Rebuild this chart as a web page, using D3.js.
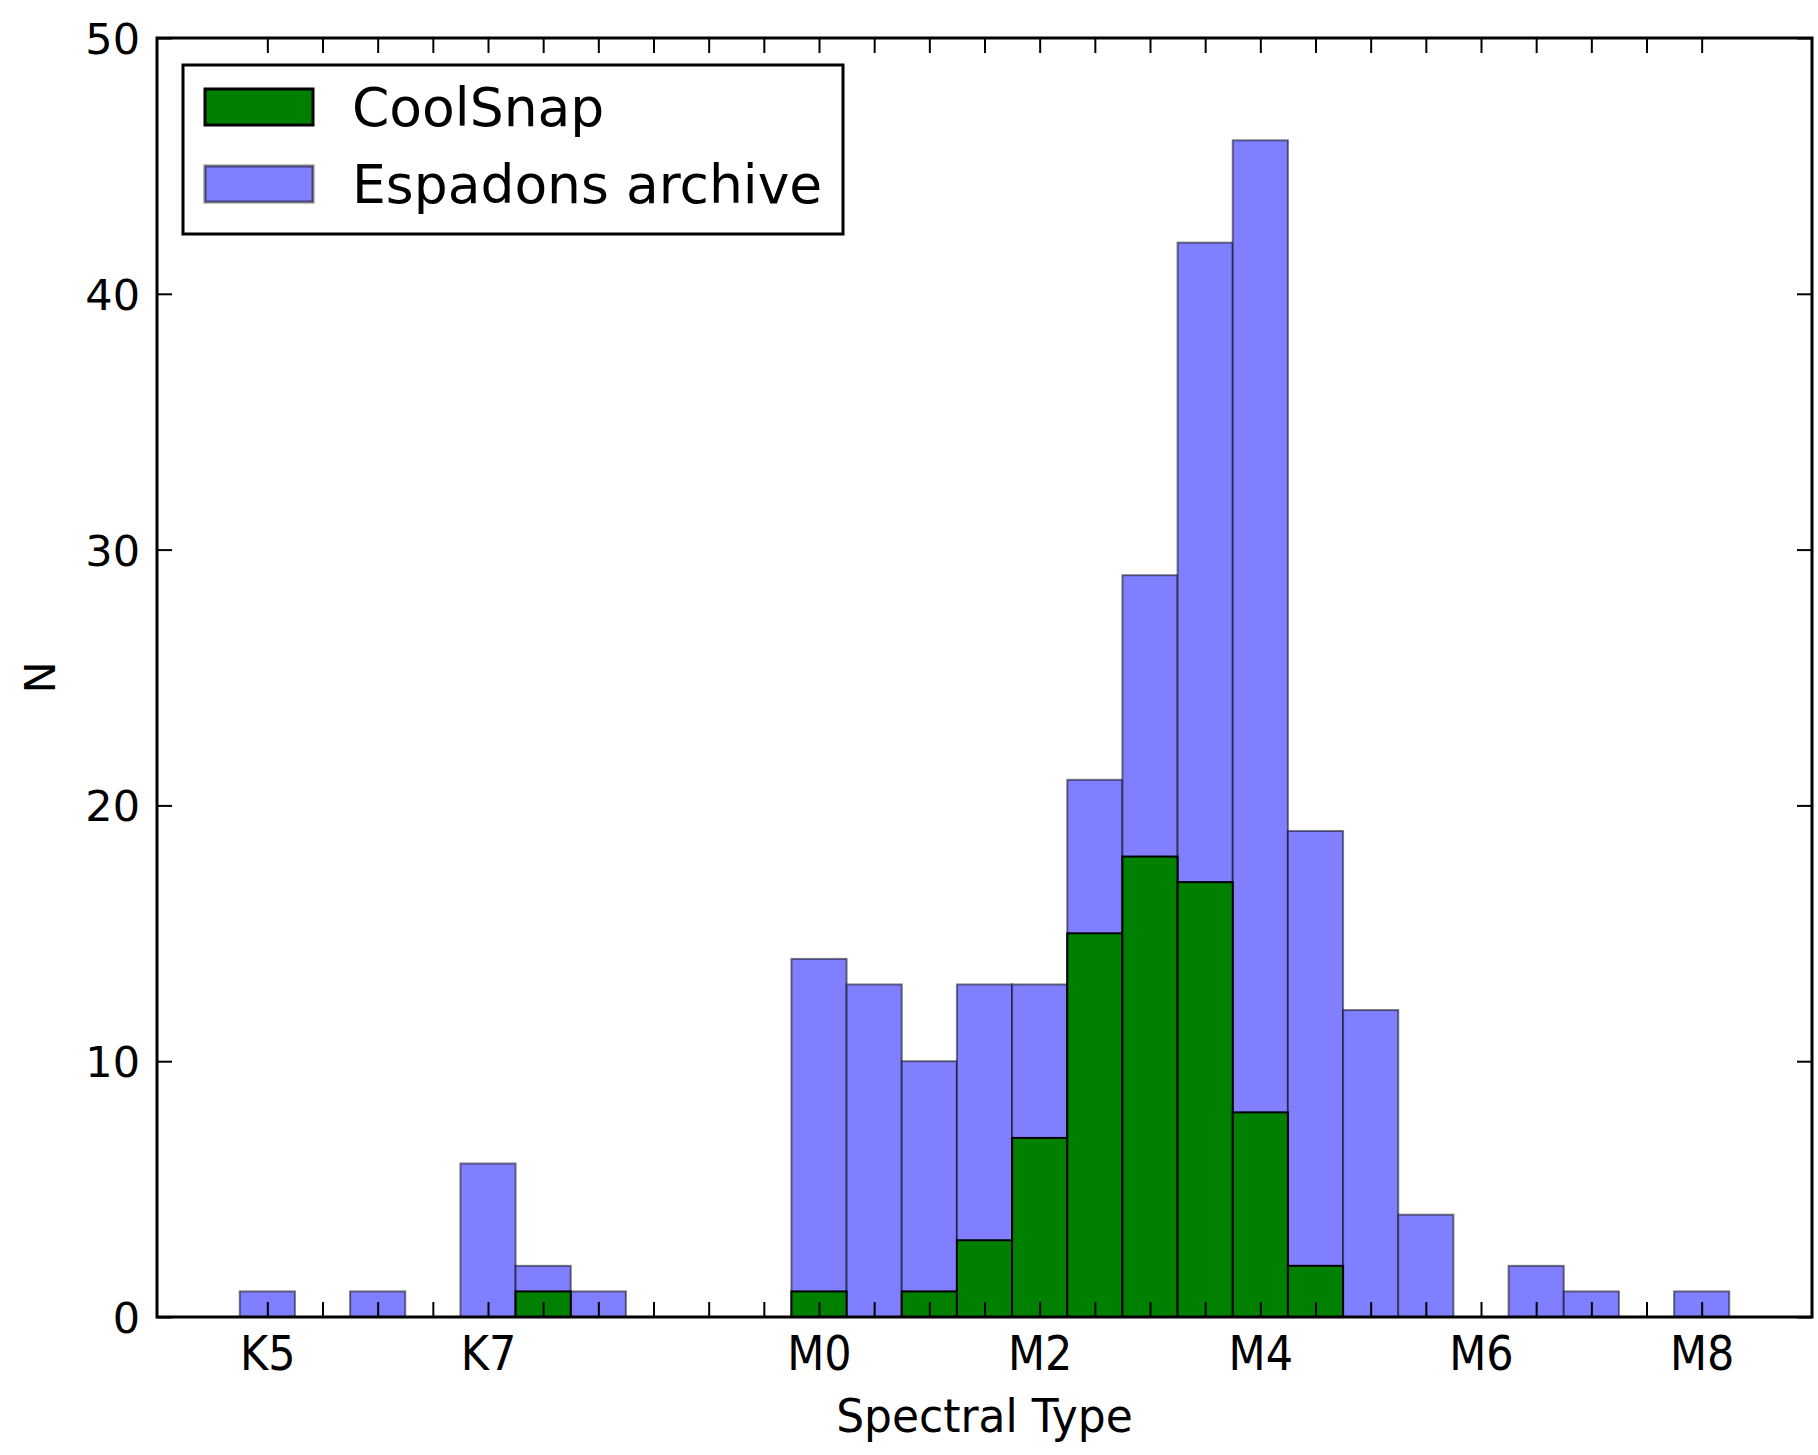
<!DOCTYPE html>
<html>
<head>
<meta charset="utf-8">
<script src="https://cdn.jsdelivr.net/npm/d3@7"></script>
<style>
  html, body { margin: 0; padding: 0; background: #fff; }
  svg { display: block; font-family: "DejaVu Sans", sans-serif; }
</style>
</head>
<body>
<svg id="chart" width="1818" height="1455"></svg>
<script>
// Spectral-type bins (M0 = 0, half-subtype width)
const binCenters = [-5, -4.5, -4, -3.5, -3, -2.5, -2, -1.5, -1, -0.5, 0, 0.5, 1, 1.5, 2, 2.5, 3, 3.5, 4, 4.5, 5, 5.5, 6, 6.5, 7, 7.5, 8];
const espadonsCounts = [1, 0, 1, 0, 6, 2, 1, 0, 0, 0, 14, 13, 10, 13, 13, 21, 29, 42, 46, 19, 12, 4, 0, 2, 1, 0, 1];
const coolsnapCounts = [0, 0, 0, 0, 0, 1, 0, 0, 0, 0, 1, 0, 1, 3, 7, 15, 18, 17, 8, 2, 0, 0, 0, 0, 0, 0, 0];
const binWidth = 0.5;

const xLabelValues = [-5, -3, 0, 2, 4, 6, 8];
const xLabelTexts = ["K5", "K7", "M0", "M2", "M4", "M6", "M8"];
const yTickValues = [0, 10, 20, 30, 40, 50];

const seriesNames = ["CoolSnap", "Espadons archive"];

const svg = d3.select("#chart");
const plotLeft = 157, plotRight = 1812, plotTop = 38, plotBottom = 1317;

const x = d3.scaleLinear().domain([-6, 9]).range([plotLeft, plotRight]);
const y = d3.scaleLinear().domain([0, 50]).range([plotBottom, plotTop]);

const blueFill = "#7f7fff";
const blueEdge = "rgba(0,0,0,0.5)";
const greenFill = "#008000";

// Espadons archive histogram
svg.append("g").selectAll("rect")
  .data(binCenters.map((c, i) => ({ c, v: espadonsCounts[i] })).filter(d => d.v > 0))
  .join("rect")
  .attr("x", d => x(d.c - binWidth / 2))
  .attr("width", d => x(d.c + binWidth / 2) - x(d.c - binWidth / 2))
  .attr("y", d => y(d.v))
  .attr("height", d => y(0) - y(d.v))
  .attr("fill", blueFill)
  .attr("stroke", blueEdge)
  .attr("stroke-width", 2);

// CoolSnap histogram
svg.append("g").selectAll("rect")
  .data(binCenters.map((c, i) => ({ c, v: coolsnapCounts[i] })).filter(d => d.v > 0))
  .join("rect")
  .attr("x", d => x(d.c - binWidth / 2))
  .attr("width", d => x(d.c + binWidth / 2) - x(d.c - binWidth / 2))
  .attr("y", d => y(d.v))
  .attr("height", d => y(0) - y(d.v))
  .attr("fill", greenFill)
  .attr("stroke", "#000")
  .attr("stroke-width", 2);

// Inward ticks on all four sides
const tickLen = 15;
const labelMap = new Map(xLabelValues.map((v, i) => [v, xLabelTexts[i]]));

const xBottom = d3.axisBottom(x)
  .tickValues(binCenters)
  .tickSizeInner(-tickLen).tickSizeOuter(0)
  .tickFormat(d => labelMap.get(d) || "");
const gxb = svg.append("g").attr("transform", `translate(0,${plotBottom})`).call(xBottom);

const xTop = d3.axisTop(x)
  .tickValues(binCenters)
  .tickSizeInner(-tickLen).tickSizeOuter(0)
  .tickFormat("");
const gxt = svg.append("g").attr("transform", `translate(0,${plotTop})`).call(xTop);

const yLeft = d3.axisLeft(y)
  .tickValues(yTickValues)
  .tickSizeInner(-tickLen).tickSizeOuter(0)
  .tickPadding(17)
  .tickFormat(d3.format("d"));
const gyl = svg.append("g").attr("transform", `translate(${plotLeft},0)`).call(yLeft);

const yRight = d3.axisRight(y)
  .tickValues(yTickValues)
  .tickSizeInner(-tickLen).tickSizeOuter(0)
  .tickFormat("");
const gyr = svg.append("g").attr("transform", `translate(${plotRight},0)`).call(yRight);

[gxb, gxt, gyl, gyr].forEach(g => {
  g.select(".domain").remove();
  g.selectAll(".tick line").attr("stroke", "#000").attr("stroke-width", 2);
  g.selectAll(".tick text")
    .attr("font-family", "DejaVu Sans, sans-serif")
    .attr("font-size", 43)
    .attr("fill", "#000");
});
gyl.selectAll(".tick text").attr("dy", "0.36em");
// Bottom labels sit on a fixed baseline, slightly tall glyphs
gxb.selectAll(".tick text")
  .attr("y", 0).attr("dy", 0)
  .attr("transform", `translate(0,${1370 - plotBottom}) scale(1,1.1)`);

// Axes frame
svg.append("rect")
  .attr("x", plotLeft).attr("y", plotTop)
  .attr("width", plotRight - plotLeft).attr("height", plotBottom - plotTop)
  .attr("fill", "none").attr("stroke", "#000").attr("stroke-width", 3);

// Axis titles
svg.append("text")
  .attr("transform", `translate(${(plotLeft + plotRight) / 2},1432) scale(1,1.06)`)
  .attr("text-anchor", "middle")
  .attr("font-size", 44)
  .text("Spectral Type");

svg.append("text")
  .attr("transform", `translate(55,${(plotTop + plotBottom) / 2}) rotate(-90)`)
  .attr("text-anchor", "middle")
  .attr("font-size", 43)
  .text("N");

// Legend
const legend = svg.append("g");
legend.append("rect")
  .attr("x", 183).attr("y", 65).attr("width", 660).attr("height", 169)
  .attr("fill", "#fff").attr("stroke", "#000").attr("stroke-width", 3);

const legendItems = [
  { name: seriesNames[0], fill: greenFill, stroke: "#000", cy: 107 },
  { name: seriesNames[1], fill: blueFill, stroke: blueEdge, cy: 184 }
];
legendItems.forEach(it => {
  legend.append("rect")
    .attr("x", 205).attr("y", it.cy - 18).attr("width", 108).attr("height", 36)
    .attr("fill", it.fill).attr("stroke", it.stroke).attr("stroke-width", 3);
  legend.append("text")
    .attr("x", 352).attr("y", it.cy).attr("dy", "0.36em")
    .attr("font-size", 53.5)
    .text(it.name);
});
</script>
</body>
</html>
